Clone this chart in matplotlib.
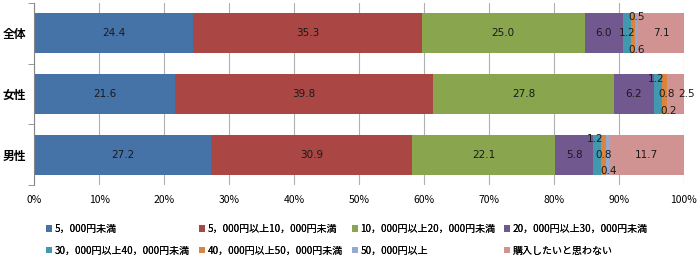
import numpy as np
import matplotlib.pyplot as plt

plt.rcParams['font.family'] = ['Noto Sans CJK JP', 'DejaVu Sans']

groups = ['全体', '女性', '男性']
series = ['5，000円未満', '5，000円以上10，000円未満', '10，000円以上20，000円未満',
          '20，000円以上30，000円未満', '30，000円以上40，000円未満', '40，000円以上50，000円未満',
          '50，000円以上', '購入したいと思わない']
colors = ['#4572A7', '#AA4643', '#89A54E', '#71588F', '#4198AF', '#DB843D', '#93A9CF', '#D19392']

total = [24.4, 35.3, 25.0, 6.0, 1.2, 0.5, 0.6, 7.1]
female = [21.6, 39.8, 27.8, 6.2, 1.2, 0.8, 0.2, 2.5]
male = [27.2, 30.9, 22.1, 5.8, 1.2, 0.8, 0.4, 11.7]
values = np.array([total, female, male])

# nudges for the tiny labels (per group, per series index)
small_offsets = [
    {4: (0, 0.0), 5: (0.5, -0.27), 6: (0.0, 0.27)},
    {4: (-0.3, -0.25), 5: (0.3, 0.0), 6: (0.1, 0.28), 7: (1.6, 0.0)},
    {4: (-0.3, -0.25), 5: (0.0, 0.0), 6: (0.2, 0.27)},
]

fig = plt.figure(figsize=(7, 2.59), dpi=100)
ax = fig.add_axes([0.049, 0.286, 0.928, 0.702])

y = np.arange(len(groups))
handles = []
for i, name in enumerate(series):
    left = values[:, :i].sum(axis=1)
    b = ax.barh(y, values[:, i], left=left, height=0.66, color=colors[i], label=name, zorder=2)
    handles.append(b)
    for g in range(len(groups)):
        v = values[g, i]
        cx = left[g] + v / 2
        cy = y[g]
        if i in small_offsets[g]:
            dx, dy = small_offsets[g][i]
            cx += dx
            cy += dy
        ax.text(cx, cy, f'{v:.1f}', ha='center', va='center', fontsize=7.5,
                color='#1a1a1a', family=['DejaVu Sans'], zorder=3, clip_on=False)

ax.set_xlim(0, 100)
ax.set_ylim(2.5, -0.5)
ax.set_xticks(np.arange(0, 101, 10))
ax.set_xticklabels([f'{t}%' for t in range(0, 101, 10)], fontsize=7.5)
ax.tick_params(axis='x', length=0, pad=7)
ax.set_yticks(y)
ax.set_yticklabels(groups, fontsize=8.5, fontweight='bold')
ax.set_yticks([-0.5, 0.5, 1.5, 2.5], minor=True)
ax.tick_params(axis='y', which='major', length=0, pad=6)
ax.tick_params(axis='y', which='minor', length=4, color='#868686')
ax.grid(axis='x', color='#b0b0b0', linewidth=0.8, zorder=0)
for s in ['top', 'right', 'bottom']:
    ax.spines[s].set_visible(False)
ax.spines['left'].set_color('#868686')

# legend: four fixed-width columns, two rows each
col_x = [0.066, 0.285, 0.503, 0.720]
for c in range(4):
    idx = [c, c + 4]
    leg = fig.legend([handles[k] for k in idx], [series[k] for k in idx], ncol=1,
                     loc='upper left', bbox_to_anchor=(col_x[c], 0.135), frameon=False,
                     fontsize=7.2, handlelength=0.6, handleheight=0.6, handletextpad=0.25,
                     labelspacing=1.15, borderpad=0, borderaxespad=0)
    fig.add_artist(leg)

fig.savefig('out.png', dpi=100)
